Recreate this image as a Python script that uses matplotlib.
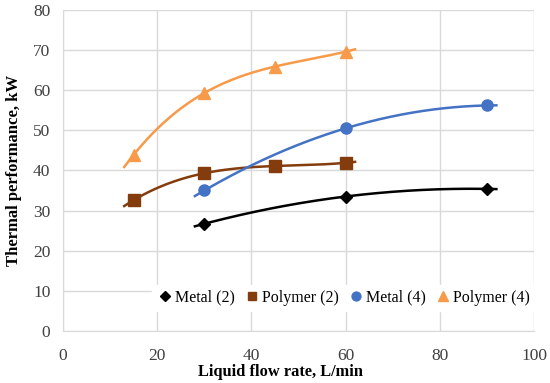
import numpy as np
import matplotlib
matplotlib.use("Agg")
import matplotlib.pyplot as plt
from matplotlib.lines import Line2D

plt.rcParams['font.family'] = ['Liberation Serif', 'DejaVu Serif']

metal_x = [30, 60, 90]
polymer_x = [15, 30, 45, 60]
metal2 = [26.7, 33.5, 35.4]
polymer2 = [32.6, 39.3, 41.1, 41.9]
metal4 = [35.0, 50.5, 56.2]
polymer4 = [43.9, 59.3, 65.9, 69.6]
labels = ["Metal (2)", "Polymer (2)", "Metal (4)", "Polymer (4)"]
colors = ["#000000", "#843C0C", "#4472C4", "#F79A4A"]
markers = ["D", "s", "o", "^"]
msizes = [6.5, 8, 8, 8.5]

series = [(metal_x, metal2), (polymer_x, polymer2), (metal_x, metal4), (polymer_x, polymer4)]

fig = plt.figure(figsize=(5.5, 3.83), dpi=100)
ax = fig.add_axes([0.1145, 0.136, 0.8565, 0.838])

for (xs, ys), c, m, ms, lab in zip(series, colors, markers, msizes, labels):
    xs = np.array(xs, float); ys = np.array(ys, float)
    coef = np.polyfit(xs, ys, min(3, len(xs) - 1))
    xx = np.linspace(xs.min() - 2, xs.max() + 2, 200)
    ax.plot(xx, np.polyval(coef, xx), color=c, lw=1.8, zorder=3)
    ax.plot(xs, ys, linestyle='none', marker=m, color=c, ms=ms, zorder=4)

ax.set_xlim(0, 100)
ax.set_ylim(0, 80)
ax.set_xticks(range(0, 101, 20))
ax.set_yticks(range(0, 81, 10))
ax.grid(True, color="#D9D9D9", lw=1)
ax.set_axisbelow(True)
for s in ['top', 'right']:
    ax.spines[s].set_visible(False)
for s in ['left', 'bottom']:
    ax.spines[s].set_color("#D9D9D9")
ax.tick_params(length=0, labelsize=12.5, colors="#404040")
ax.tick_params(axis='x', pad=12)
ax.tick_params(axis='y', pad=9)
for t in ax.get_xticklabels() + ax.get_yticklabels():
    t.set_color("#404040")
ax.set_xlabel("Liquid flow rate, L/min", fontsize=11.8, fontweight='bold')
ax.xaxis.set_label_coords(0.461, -0.104)
ax.set_ylabel("Thermal performance, kW", fontsize=12, fontweight='bold', labelpad=8)

handles = [Line2D([], [], linestyle='none', marker=m, color=c, ms=ms * 0.8)
           for c, m, ms in zip(colors, markers, msizes)]
leg = ax.legend(handles, labels, loc='center', bbox_to_anchor=(0.595, 0.103), ncol=4,
                frameon=True, fontsize=11.5, handletextpad=0.1, columnspacing=0.6,
                handlelength=1.0, borderpad=0.3)
leg.get_frame().set_facecolor('white')
leg.get_frame().set_edgecolor('white')
leg.get_frame().set_alpha(1)

fig.savefig("out.png", dpi=100)
